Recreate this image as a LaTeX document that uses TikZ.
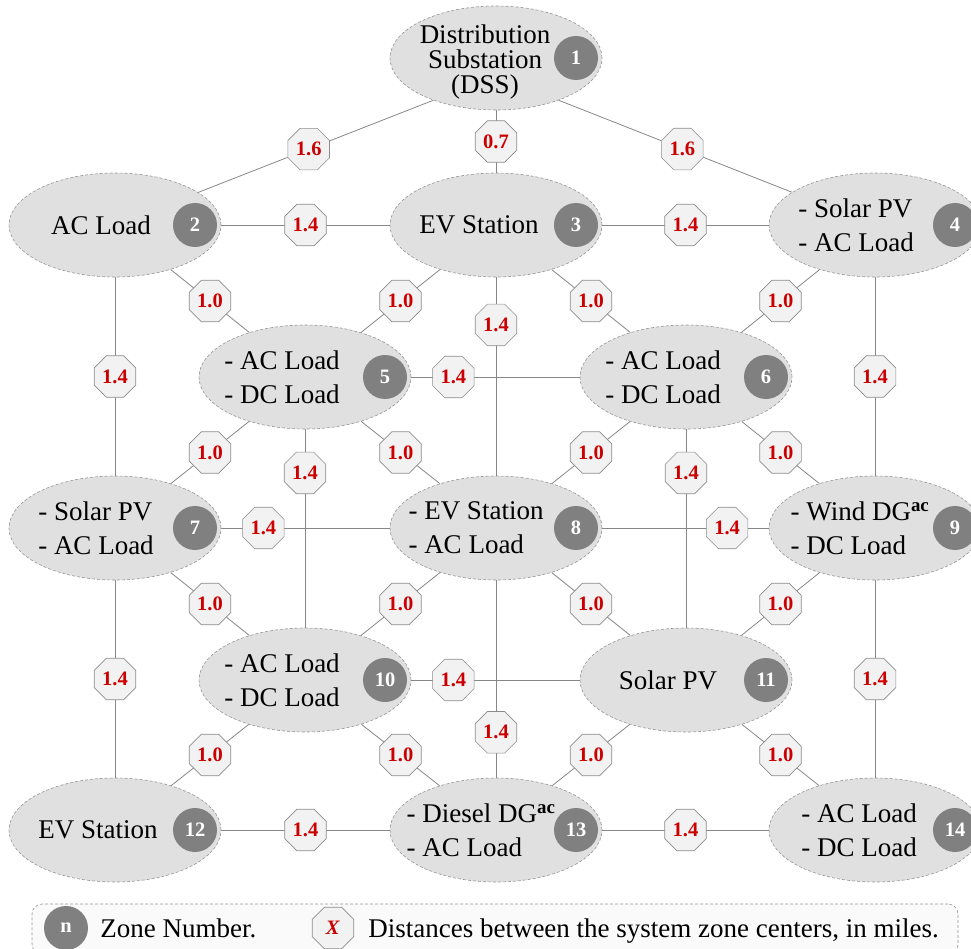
\documentclass[tikz,border=0pt]{standalone}
\usepackage{fontspec}
\setmainfont{Liberation Serif}
\newfontfamily\zonefont{Liberation Serif}
\usetikzlibrary{shapes.geometric,positioning}

\definecolor{zonefill}{RGB}{224,224,224}
\definecolor{zoneline}{RGB}{150,150,150}
\definecolor{numgray}{RGB}{128,128,128}
\definecolor{octfill}{RGB}{242,242,242}
\definecolor{octline}{RGB}{140,140,140}
\definecolor{linkgray}{RGB}{135,135,135}
\definecolor{distred}{RGB}{204,0,0}
\definecolor{legendfill}{RGB}{250,250,250}

\begin{document}
\begin{tikzpicture}[x=1pt,y=-1pt,
  zone/.style={ellipse,draw=zoneline,densely dashed,line width=0.6pt,fill=zonefill,
    minimum width=212pt,minimum height=104pt,inner sep=0pt},
  ztext/.style={align=left,inner sep=0pt,font=\zonefont\fontsize{27}{34}\selectfont},
  znum/.style={circle,fill=numgray,text=white,inner sep=0pt,minimum size=44pt,
    font=\zonefont\fontsize{20.5}{20.5}\selectfont\bfseries},
  dist/.style={regular polygon,regular polygon sides=8,draw=octline,fill=octfill,
    line width=0.6pt,inner sep=0pt,minimum size=45pt,text=distred,
    font=\zonefont\fontsize{20.5}{20.5}\selectfont\bfseries},
  link/.style={draw=linkgray,line width=0.8pt},
  every node/.style={font=\zonefont\fontsize{27}{34}\selectfont}]
 \useasboundingbox (0,0) rectangle (971,949);

 % zones
 \node[zone] (n1) at (496,58) {};
 \node[ztext,align=center,font=\zonefont\fontsize{27}{25}\selectfont] (t1) at ([xshift=-11pt,yshift=-4pt]n1) {Distribution\\Substation\\(DSS)};
 \node[znum] (z1) at ([xshift=80pt]n1) {1};

 \node[zone] (n2) at (115,225) {};
 \node[ztext] (t2) at ([xshift=-14pt]n2) {AC Load};
 \node[znum] (z2) at ([xshift=80pt]n2) {2};

 \node[zone] (n3) at (496,225) {};
 \node[ztext] (t3) at ([xshift=-17pt]n3) {EV Station};
 \node[znum] (z3) at ([xshift=80pt]n3) {3};

 \node[zone] (n4) at (875,225) {};
 \node[ztext] (t4) at ([xshift=-19pt]n4) {- Solar PV\\- AC Load};
 \node[znum] (z4) at ([xshift=80pt]n4) {4};

 \node[zone] (n5) at (305,377) {};
 \node[ztext] (t5) at ([xshift=-23pt]n5) {- AC Load\\- DC Load};
 \node[znum] (z5) at ([xshift=80pt]n5) {5};

 \node[zone] (n6) at (686,377) {};
 \node[ztext] (t6) at ([xshift=-23pt]n6) {- AC Load\\- DC Load};
 \node[znum] (z6) at ([xshift=80pt]n6) {6};

 \node[zone] (n7) at (115,528) {};
 \node[ztext] (t7) at ([xshift=-19pt]n7) {- Solar PV\\- AC Load};
 \node[znum] (z7) at ([xshift=80pt]n7) {7};

 \node[zone] (n8) at (496,528) {};
 \node[ztext] (t8) at ([xshift=-20pt]n8) {- EV Station\\- AC Load};
 \node[znum] (z8) at ([xshift=80pt]n8) {8};

 \node[zone] (n9) at (875,528) {};
 \node[ztext] (t9) at ([xshift=-15pt]n9) {- Wind DG\textsuperscript{\bfseries ac}\\- DC Load};
 \node[znum] (z9) at ([xshift=80pt]n9) {9};

 \node[zone] (n10) at (305,680) {};
 \node[ztext] (t10) at ([xshift=-23pt]n10) {- AC Load\\- DC Load};
 \node[znum] (z10) at ([xshift=80pt]n10) {10};

 \node[zone] (n11) at (686,680) {};
 \node[ztext] (t11) at ([xshift=-18pt]n11) {Solar PV};
 \node[znum] (z11) at ([xshift=80pt]n11) {11};

 \node[zone] (n12) at (115,830) {};
 \node[ztext] (t12) at ([xshift=-17pt]n12) {EV Station};
 \node[znum] (z12) at ([xshift=80pt]n12) {12};

 \node[zone] (n13) at (496,830) {};
 \node[ztext] (t13) at ([xshift=-15pt]n13) {- Diesel DG\textsuperscript{\bfseries ac}\\- AC Load};
 \node[znum] (z13) at ([xshift=80pt]n13) {13};

 \node[zone] (n14) at (875,830) {};
 \node[ztext] (t14) at ([xshift=-16pt]n14) {- AC Load\\- DC Load};
 \node[znum] (z14) at ([xshift=80pt]n14) {14};

 % feeders from the substation
 \draw[link] (n1.214) -- node[dist,pos=0.53] (d12) {1.6} (n2);
 \draw[link] (n1) -- node[dist] (d13) {0.7} (n3);
 \draw[link] (n1.326) -- node[dist,pos=0.53] (d14) {1.6} (n4);

 % horizontal links
 \draw[link] (n2) -- node[dist] (d23) {1.4} (n3);
 \draw[link] (n3) -- node[dist] (d34) {1.4} (n4);
 \draw[link] (n5) -- node[dist,pos=0.25] (d56) {1.4} (n6);
 \draw[link] (n7) -- node[dist,pos=0.25] (d78) {1.4} (n8);
 \draw[link] (n8) -- node[dist,pos=0.75] (d89) {1.4} (n9);
 \draw[link] (n10) -- node[dist,pos=0.25] (d1011) {1.4} (n11);
 \draw[link] (n12) -- node[dist] (d1213) {1.4} (n13);
 \draw[link] (n13) -- node[dist] (d1314) {1.4} (n14);

 % vertical links
 \draw[link] (n2) -- node[dist] (d27) {1.4} (n7);
 \draw[link] (n3) -- node[dist,pos=0.24] (d38) {1.4} (n8);
 \draw[link] (n4) -- node[dist] (d49) {1.4} (n9);
 \draw[link] (n5) -- node[dist,pos=0.22] (d510) {1.4} (n10);
 \draw[link] (n6) -- node[dist,pos=0.22] (d611) {1.4} (n11);
 \draw[link] (n7) -- node[dist] (d712) {1.4} (n12);
 \draw[link] (n8) -- node[dist,pos=0.77] (d813) {1.4} (n13);
 \draw[link] (n9) -- node[dist] (d914) {1.4} (n14);

 % diagonal links
 \draw[link] (n2) -- node[dist] (d25) {1.0} (n5);
 \draw[link] (n3) -- node[dist] (d35) {1.0} (n5);
 \draw[link] (n3) -- node[dist] (d36) {1.0} (n6);
 \draw[link] (n4) -- node[dist] (d46) {1.0} (n6);
 \draw[link] (n5) -- node[dist] (d57) {1.0} (n7);
 \draw[link] (n5) -- node[dist] (d58) {1.0} (n8);
 \draw[link] (n6) -- node[dist] (d68) {1.0} (n8);
 \draw[link] (n6) -- node[dist] (d69) {1.0} (n9);
 \draw[link] (n7) -- node[dist] (d710) {1.0} (n10);
 \draw[link] (n8) -- node[dist] (d810) {1.0} (n10);
 \draw[link] (n8) -- node[dist] (d811) {1.0} (n11);
 \draw[link] (n9) -- node[dist] (d911) {1.0} (n11);
 \draw[link] (n10) -- node[dist] (d1012) {1.0} (n12);
 \draw[link] (n10) -- node[dist] (d1013) {1.0} (n13);
 \draw[link] (n11) -- node[dist] (d1113) {1.0} (n13);
 \draw[link] (n11) -- node[dist] (d1114) {1.0} (n14);

 % legend
 \node[draw=zoneline,densely dashed,line width=0.6pt,fill=legendfill,rounded corners=10pt,
   minimum width=926pt,minimum height=50pt] (legend) at (495,929) {};
 \node[znum] (lnum) at (66,928) {n};
 \node[anchor=west,inner sep=0pt,text depth=0pt] (lnumtext) at ([xshift=12pt]lnum.east) {Zone Number.};
 \node[dist] (ldist) at (333,928) {\textit{X}};
 \node[anchor=west,inner sep=0pt,text depth=0pt] (ldisttext) at ([xshift=14pt]ldist.east) {Distances between the system zone centers, in miles.};
\end{tikzpicture}
\end{document}
